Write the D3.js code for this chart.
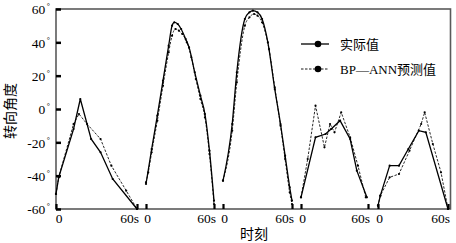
<!DOCTYPE html>
<html>
<head>
<meta charset="utf-8">
<script src="https://cdn.jsdelivr.net/npm/d3@7"></script>
<style>
  body { margin: 0; background: #fff; }
  svg { display: block; font-family: "Liberation Serif", "Noto Sans CJK SC", serif; }
</style>
</head>
<body>
<script>
// five 60s runs, [seconds, degrees]
const actual1 = [[0,-51],[2,-41],[13,-12],[18,6],[26,-18],[33,-26],[42,-42],[60,-60]];
const actual2 = [[0,-45],[5,-24],[10,-4],[15,17],[20,38],[23,50],[25,52],[28,51],[31,48],[35,42],[38,37],[43,22],[48,8],[52,-3],[56,-25],[60,-55]];
const actual3 = [[0,-43],[8,-9],[12,22],[19,54],[23,58],[26,59],[30,58],[34,54],[39,40],[45,12],[50,-9],[54,-28],[58,-47],[60,-55]];
const actual4 = [[0,-53],[13,-17],[22,-15],[27,-12],[35,-7],[44,-18],[50,-37],[59,-53]];
const actual5 = [[0,-58],[2,-52],[10,-34],[18,-34],[26,-24],[35,-13],[41,-14],[60,-60]];

const predict1 = [[0,-51],[2,-41],[13,-9],[17,-3],[23,-9],[33,-18],[41,-34],[52,-49],[60,-60]];
const predict2 = [[0,-44],[2,-38],[5,-26],[10,-7],[15,14],[20,34],[23,44],[26,48],[29,47],[32,45],[36,40],[40,31],[44,18],[48,6],[52,-5],[56,-27],[60,-57]];
const predict3 = [[0,-43],[8,-13],[12,16],[19,50],[23,55],[27,57],[30,56],[34,52],[40,36],[45,13],[50,-10],[54,-30],[58,-50],[60,-57]];
const predict4 = [[0,-53],[6,-30],[13,2],[21,-23],[26,-9],[30,-14],[36,-2],[44,-17],[51,-34],[58,-53]];
const predict5 = [[0,-58],[2,-52],[10,-41],[18,-39],[27,-25],[37,-9],[40,-2],[47,-21],[54,-38],[60,-60]];

const yTicks = [-60,-40,-20,0,20,40,60];
const xTicks = [0, 60];
const xTickLabels = ["0", "60s"];
const seriesNames = ["实际值", "BP—ANN预测值"];
const yTitle = "转向角度";
const xTitle = "时刻";

const width = 456, height = 243;
const plotLeft = 56, plotRight = 450.5, plotTop = 9, plotBottom = 209;

// pixel span of each run along the time axis
const segRanges = [[56,137],[146,214],[223,292],[301,368],[378,448]];
const segCurves = [d3.curveLinear, d3.curveMonotoneX, d3.curveMonotoneX, d3.curveLinear, d3.curveLinear];

const actual = [actual1, actual2, actual3, actual4, actual5];
const predict = [predict1, predict2, predict3, predict4, predict5];

const svg = d3.select("body").append("svg")
  .attr("width", width)
  .attr("height", height);

const y = d3.scaleLinear().domain([-60, 60]).range([plotBottom, plotTop]);
const xs = segRanges.map(r => d3.scaleLinear().domain([0, 60]).range(r));

// frame
svg.append("rect")
  .attr("x", plotLeft).attr("y", plotTop)
  .attr("width", plotRight - plotLeft).attr("height", plotBottom - plotTop)
  .attr("fill", "none")
  .attr("stroke", "#5a5a5a")
  .attr("stroke-width", 1.6);

// lines
actual.forEach((run, i) => {
  const x = xs[i];
  const line = d3.line().x(d => x(d[0])).y(d => y(d[1])).curve(segCurves[i]);

  svg.append("path")
    .datum(predict[i])
    .attr("d", line)
    .attr("fill", "none")
    .attr("stroke", "#111")
    .attr("stroke-width", 0.9)
    .attr("stroke-dasharray", "2.5,1.5");

  svg.append("path")
    .datum(run)
    .attr("d", line)
    .attr("fill", "none")
    .attr("stroke", "#000")
    .attr("stroke-width", 1.3);

  svg.append("g").selectAll("circle")
    .data(run.concat(predict[i]))
    .join("circle")
      .attr("cx", d => x(d[0]))
      .attr("cy", d => y(d[1]))
      .attr("r", 1.1)
      .attr("fill", "#000");

  // time axis for this run
  const ax = svg.append("g")
    .attr("transform", `translate(0,${plotBottom})`)
    .call(d3.axisBottom(x)
      .tickValues(xTicks)
      .tickFormat((d, j) => xTickLabels[j])
      .tickSizeInner(-5)
      .tickSizeOuter(0)
      .tickPadding(4))
    .attr("font-family", null)
    .attr("font-size", 13.5);
  ax.select(".domain").remove();
  ax.selectAll(".tick line").attr("stroke", "#000").attr("stroke-width", 2.2);
  ax.selectAll(".tick text")
    .attr("fill", "#000")
    .attr("text-anchor", d => d === 60 ? "end" : "middle")
    .attr("dx", d => d === 60 ? 1.5 : (i === 0 ? 2.5 : 1));
});

// angle axis
const gy = svg.append("g")
  .attr("transform", `translate(${plotLeft},0)`)
  .call(d3.axisLeft(y)
    .tickValues(yTicks)
    .tickSizeInner(-5)
    .tickSizeOuter(0)
    .tickPadding(6))
  .attr("font-family", null)
  .attr("font-size", 13.5);
gy.select(".domain").remove();
gy.selectAll(".tick line").attr("stroke", "#000").attr("stroke-width", 2.5);
gy.selectAll(".tick text").each(function(d) {
  const t = d3.select(this)
    .text("")
    .attr("fill", "#000")
    .attr("dy", "0.35em");
  t.append("tspan").text(d);
  t.append("tspan").attr("dx", 1.5).attr("dy", -5).attr("font-size", 8).text("°");
});

// titles
svg.append("text")
  .attr("transform", "translate(15,111) rotate(-90)")
  .attr("text-anchor", "middle")
  .attr("font-size", 14)
  .text(yTitle);

svg.append("text")
  .attr("x", 254)
  .attr("y", 239)
  .attr("text-anchor", "middle")
  .attr("font-size", 14)
  .text(xTitle);

// legend
const legend = svg.append("g").attr("transform", "translate(301,44)");
seriesNames.forEach((name, i) => {
  const row = legend.append("g").attr("transform", `translate(0,${i * 25})`);
  row.append("line")
    .attr("x1", 0).attr("x2", 28)
    .attr("stroke", "#000")
    .attr("stroke-width", i === 0 ? 1.3 : 0.9)
    .attr("stroke-dasharray", i === 0 ? null : "2.5,1.5");
  row.append("circle").attr("cx", 17).attr("r", 3.3).attr("fill", "#000");
  row.append("text")
    .attr("x", 39)
    .attr("dy", "0.35em")
    .attr("font-size", 13)
    .text(name);
});
</script>
</body>
</html>
